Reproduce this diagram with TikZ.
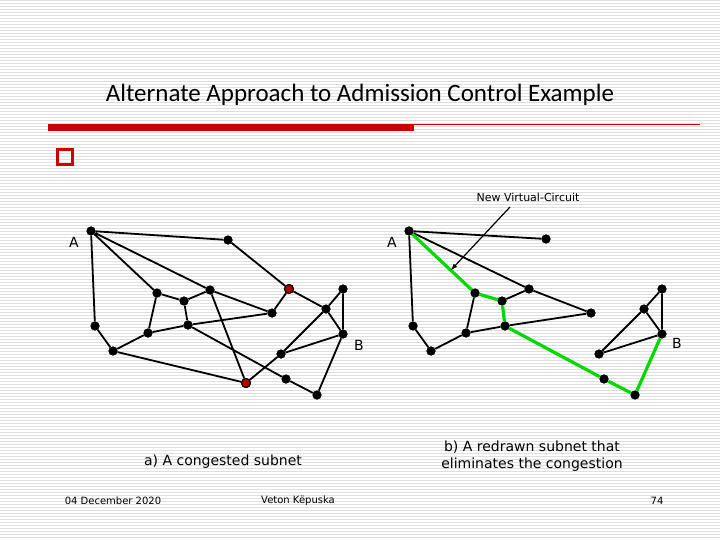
\documentclass[tikz,border=0pt]{standalone}
\usepackage{fontspec}
\setmainfont{Carlito}
\newfontfamily\dv{DejaVu Sans}
\begin{document}
\begin{tikzpicture}[x=1pt,y=-1pt,
  dot/.style={circle,fill=black,inner sep=0pt,minimum size=9pt},
  rdot/.style={circle,fill=red!70!black,draw=black,line width=1pt,inner sep=0pt,minimum size=9pt},
  ed/.style={line width=1.8pt},
  gr/.style={line width=3.2pt,green!85!black},
  lbl/.style={font=\dv\fontsize{14}{17}\selectfont}]
\useasboundingbox (0,0) rectangle (720,540);
\fill[white] (0,0) rectangle (720,540);
\foreach \y in {0,3,...,540} \draw[gray!25,line width=0.6pt] (0,\y) -- (720,\y);
\node (title) at (360,95) {\fontsize{25}{30}\selectfont Alternate Approach to Admission Control Example};
\draw[red!80!black,line width=0.6pt] (48,124) -- (700,124);
\fill[red!80!black] (48,124) rectangle (414,131);
\node[draw=red!80!black,line width=2.4pt,minimum size=15pt,inner sep=0pt] (bul) at (65,157) {};
\node[dot] (A) at (91,231) {};
\node[dot] (n1) at (228,240) {};
\node[rdot] (r1) at (289,289) {};
\node[dot] (n2) at (157,293) {};
\node[dot] (n3) at (184,301) {};
\node[dot] (n4) at (210,290) {};
\node[dot] (n5) at (272,313) {};
\node[dot] (n6) at (95,326) {};
\node[dot] (n7) at (148,333) {};
\node[dot] (n8) at (188,325) {};
\node[dot] (n9) at (113,351) {};
\node[dot] (n10) at (326,309) {};
\node[dot] (n11) at (343,289) {};
\node[dot] (B) at (343,334) {};
\node[dot] (n12) at (281,354) {};
\node[rdot] (r2) at (246,383) {};
\node[dot] (n13) at (286,379) {};
\node[dot] (n14) at (317,395) {};
\begin{scope}[ed]
\draw (A)--(n1) (n1)--(r1) (A)--(n2) (A)--(n4) (n4)--(n5) (A)--(n6)
(n2)--(n3) (n3)--(n4) (n3)--(n8) (n2)--(n7) (n7)--(n8) (n8)--(n5) (n5)--(r1)
(r1)--(n10) (n10)--(n11) (n11)--(B) (n10)--(B) (n10)--(n12) (B)--(n12) (n12)--(r2)
(n4)--(r2) (n6)--(n9) (n9)--(n7) (n9)--(r2) (n8)--(n13) (n13)--(n14) (n14)--(B);
\end{scope}
\node[rdot] at (r1) {};\node[rdot] at (r2) {};
\foreach \n in {A,n1,n2,n3,n4,n5,n6,n7,n8,n9,n10,n11,B,n12,n13,n14} \node[dot] at (\n) {};
\node[lbl] (la) at (74,242) {A};
\node[lbl] (lb) at (359,345) {B};
\node[dot] (RA) at (409,231) {};
\node[dot] (m1) at (546,239) {};
\node[dot] (m2) at (475,293) {};
\node[dot] (m3) at (502,301) {};
\node[dot] (m4) at (529,289) {};
\node[dot] (m5) at (591,313) {};
\node[dot] (m6) at (413,326) {};
\node[dot] (m7) at (466,333) {};
\node[dot] (m8) at (505,326) {};
\node[dot] (m9) at (431,351) {};
\node[dot] (m10) at (644,309) {};
\node[dot] (m11) at (662,289) {};
\node[dot] (RB) at (662,334) {};
\node[dot] (m12) at (599,354) {};
\node[dot] (m13) at (604,379) {};
\node[dot] (m14) at (635,395) {};
\draw[ed] (RA)--(m1) (RA)--(m6) (RA)--(m4) (m4)--(m5) (m3)--(m4) (m2)--(m7) (m7)--(m8) (m8)--(m5)
(m6)--(m9) (m9)--(m7) (m10)--(m11) (m11)--(RB) (m10)--(RB) (m10)--(m12) (RB)--(m12);
\draw[gr] (RA)--(m2) (m2)--(m3) (m3)--(m8) (m8)--(m13) (m13)--(m14) (m14)--(RB);
\foreach \n in {RA,m1,m2,m3,m4,m5,m6,m7,m8,m9,m10,m11,RB,m12,m13,m14} \node[dot] at (\n) {};
\node[lbl] (ra) at (392,242) {A};
\node[lbl] (rb) at (677,343) {B};
\coordinate (tip) at (451,270);
\node[font=\dv\fontsize{11}{13}\selectfont] (nvc) at (528,197) {New Virtual-Circuit};
\draw[line width=1.2pt,-latex] (510,207) -- (tip);
\node[lbl] (ca) at (223,462) {a) A congested subnet};
\node[lbl,align=center] (cb) at (532,456) {b) A redrawn subnet that\\eliminates the congestion};
\node[font=\dv\fontsize{10}{12}\selectfont] (f1) at (113,501) {04 December 2020};
\node[font=\dv\fontsize{10}{12}\selectfont] (f2) at (298,501) {Veton Këpuska};
\node[font=\dv\fontsize{10}{12}\selectfont] (f3) at (657,501) {74};
\end{tikzpicture}
\end{document}
